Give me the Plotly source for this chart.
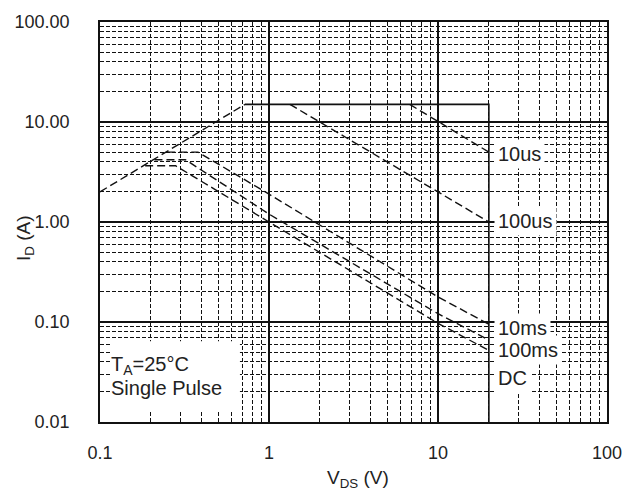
import math
import plotly.graph_objects as go

# ---- data (V_DS in volts, I_D in amps) ----
rds_V = [0.1, 0.72]
rds_I = [2.0, 15.0]

limit_V = [0.72, 20, 20]
limit_I = [15, 15, 0.01]

us10_V = [6.8, 20]
us10_I = [15, 5.0]

us100_V = [1.33, 20]
us100_I = [15, 1.0]

ms10_V = [0.25, 0.38, 1, 10, 20]
ms10_I = [5.0, 5.0, 1.9, 0.178, 0.095]

ms100_V = [0.21, 0.32, 1, 10, 20]
ms100_I = [4.2, 4.2, 1.2, 0.121, 0.066]

dc_V = [0.185, 0.28, 1, 10, 20]
dc_I = [3.65, 3.65, 1.0, 0.097, 0.052]

x_ticks = [0.1, 1, 10, 100]
x_ticktext = ["0.1", "1", "10", "100"]
y_ticks = [0.01, 0.1, 1, 10, 100]
y_ticktext = ["0.01", "0.10", "1.00", "10.00", "100.00"]

curve_labels = ["10us", "100us", "10ms", "100ms", "DC"]
label_I = [4.8, 1.02, 0.088, 0.052, 0.0277]

FONT = "Liberation Sans, Arial, sans-serif"
DASH = "8px,4px"

fig = go.Figure()

def dashed(V, I, name):
    fig.add_trace(go.Scatter(x=V, y=I, mode="lines", name=name,
                             line=dict(color="#111", width=1.4, dash=DASH),
                             showlegend=False, hoverinfo="skip"))

dashed(rds_V, rds_I, "RDS(on) limit")
fig.add_trace(go.Scatter(x=limit_V, y=limit_I, mode="lines", name="limit",
                         line=dict(color="#111", width=1.6),
                         showlegend=False, hoverinfo="skip"))
dashed(us10_V, us10_I, "10us")
dashed(us100_V, us100_I, "100us")
dashed(ms10_V, ms10_I, "10ms")
dashed(ms100_V, ms100_I, "100ms")
dashed(dc_V, dc_I, "DC")

annotations = []
for txt, yv in zip(curve_labels, label_I):
    annotations.append(dict(
        x=math.log10(21.3), y=math.log10(yv), xref="x", yref="y",
        text=txt, showarrow=False, xanchor="left", yanchor="middle",
        font=dict(family=FONT, size=20, color="#222"),
        bgcolor="white", borderpad=3))

annotations.append(dict(
    x=math.log10(0.1125), y=math.log10(0.0365), xref="x", yref="y",
    text="T<sub>A</sub>=25°C", showarrow=False, xanchor="left", yanchor="middle",
    font=dict(family=FONT, size=20, color="#222")))
annotations.append(dict(
    x=math.log10(0.1125), y=math.log10(0.0221), xref="x", yref="y",
    text="Single Pulse", showarrow=False, xanchor="left", yanchor="middle",
    font=dict(family=FONT, size=20, color="#222")))

annotations.append(dict(
    x=0.509, y=-0.143, xref="paper", yref="paper",
    text="V<sub>DS</sub> (V)", showarrow=False, xanchor="center", yanchor="middle",
    font=dict(family=FONT, size=19, color="#222")))
annotations.append(dict(
    x=-0.148, y=0.46, xref="paper", yref="paper", textangle=-90,
    text="I<sub>D</sub> (A)", showarrow=False, xanchor="center", yanchor="middle",
    font=dict(family=FONT, size=19, color="#222")))

fig.update_layout(
    width=634, height=503,
    margin=dict(l=100, r=27, t=16, b=81),
    paper_bgcolor="white", plot_bgcolor="white",
    font=dict(family=FONT, size=18, color="#222"),
    annotations=annotations,
    shapes=[dict(type="rect", xref="paper", yref="paper",
                 x0=0.02, x1=0.276, y0=0.03, y1=0.202,
                 fillcolor="white", line=dict(width=0), layer="above")],
    xaxis=dict(type="log", range=[-1, 2], tickmode="array",
               tickvals=x_ticks, ticktext=x_ticktext,
               showgrid=True, gridcolor="#111", gridwidth=1.6,
               showline=True, linecolor="#111", linewidth=1.6, mirror=True,
               ticks="", ticklabelstandoff=14,
               tickfont=dict(family=FONT, size=18, color="#222"),
               minor=dict(dtick="D1", showgrid=True, gridcolor="#111",
                          gridwidth=1, griddash="4px,2px", ticks="")),
    yaxis=dict(type="log", range=[-2, 2], tickmode="array",
               tickvals=y_ticks, ticktext=y_ticktext,
               showgrid=True, gridcolor="#111", gridwidth=1.6,
               showline=True, linecolor="#111", linewidth=1.6, mirror=True,
               ticks="", ticklabelstandoff=25,
               tickfont=dict(family=FONT, size=18, color="#222"),
               minor=dict(dtick="D1", showgrid=True, gridcolor="#111",
                          gridwidth=1, griddash="4px,2px", ticks="")),
)

fig.write_html("out.html")
